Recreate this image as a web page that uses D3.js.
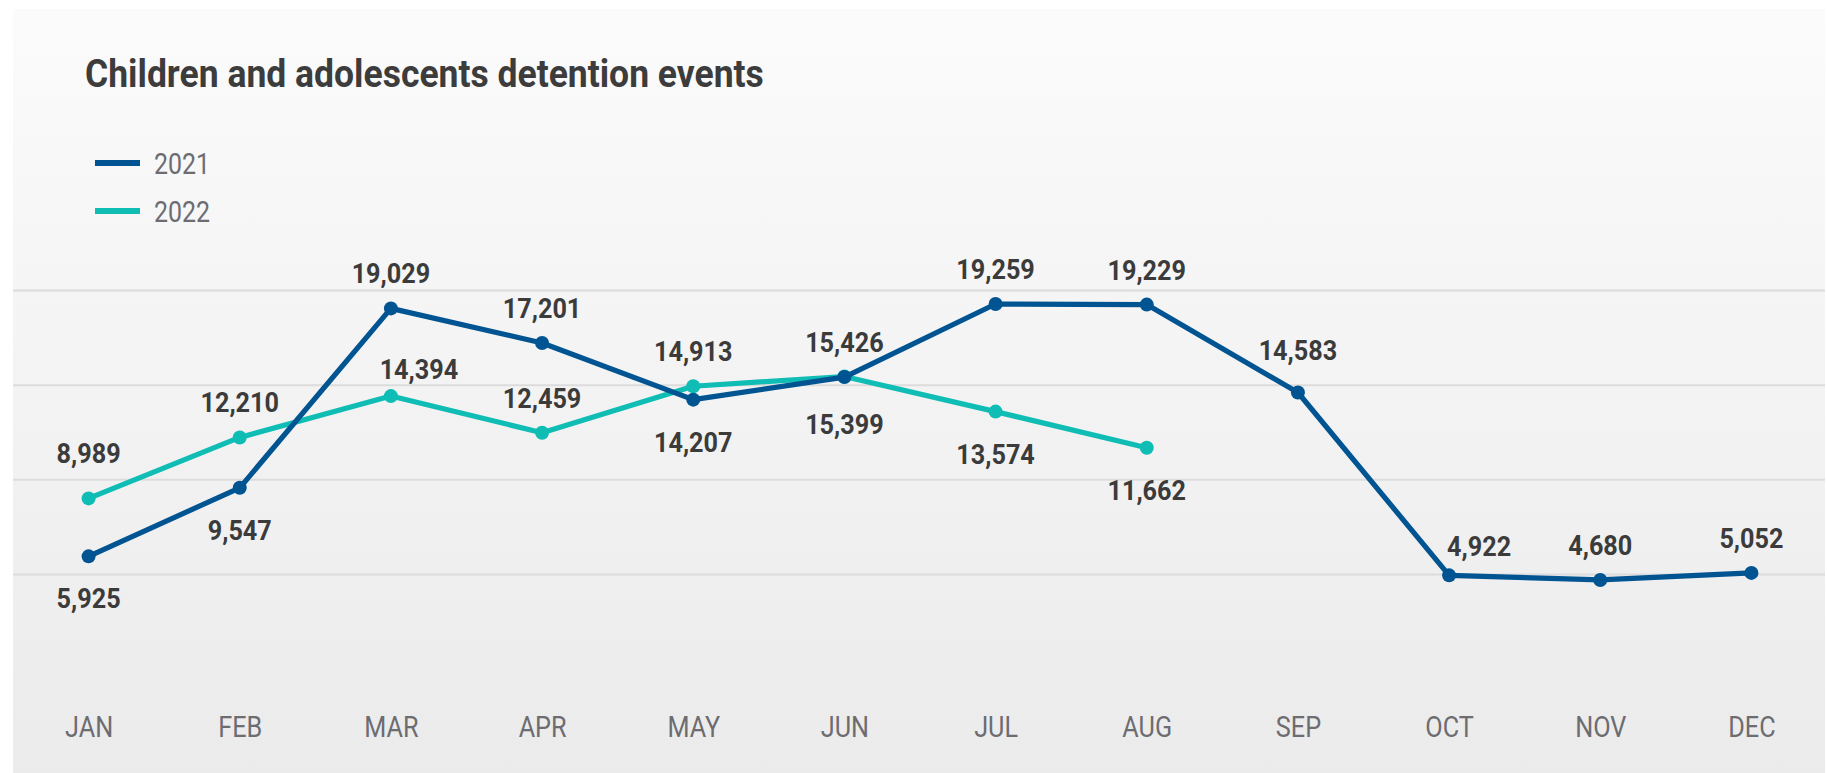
<!DOCTYPE html>
<html>
<head>
<meta charset="utf-8">
<script src="https://cdn.jsdelivr.net/npm/d3@7"></script>
<style>
  html, body { margin: 0; padding: 0; background: #fff; }
  svg { display: block; font-family: Roboto, "Noto Sans", sans-serif; }
</style>
</head>
<body>
<svg id="chart" width="1827" height="773"></svg>
<script>
const months = ["JAN", "FEB", "MAR", "APR", "MAY", "JUN", "JUL", "AUG", "SEP", "OCT", "NOV", "DEC"];
const seriesNames = ["2021", "2022"];
const values2021 = [5925, 9547, 19029, 17201, 14207, 15399, 19259, 19229, 14583, 4922, 4680, 5052];
const values2022 = [8989, 12210, 14394, 12459, 14913, 15426, 13574, 11662];
const gridValues = [5000, 10000, 15000, 20000];

// which side of the point each value label sits on
const side2021 = ["below", "below", "above", "above", "below", "below", "above", "above", "above", "above", "above", "above"];
const side2022 = ["above", "above", "above", "above", "above", "above", "below", "below"];

// small hand nudges where the original moved a label off its point
const labelNudge = {
    "2022-JAN": {dx: 0, dy: -10},
    "2022-MAR": {dx: 28, dy: 8},
    "2021-OCT": {dx: 30, dy: 6},
    "2021-SEP": {dx: 0, dy: -8},
    "2021-JUN": {dx: 0, dy: 5}
};

const colors = {"2021": "#005491", "2022": "#0fbdb5"};
const W = 1827, H = 773;
const panel = {x: 13, y: 9, right: 1825};

const svg = d3.select("#chart");

const defs = svg.append("defs");
const grad = defs.append("linearGradient")
    .attr("id", "bg")
    .attr("x1", 0).attr("y1", 0).attr("x2", 0).attr("y2", 1);
grad.append("stop").attr("offset", "0%").attr("stop-color", "#fbfbfb");
grad.append("stop").attr("offset", "100%").attr("stop-color", "#ebebec");

svg.append("rect")
    .attr("x", panel.x)
    .attr("y", panel.y)
    .attr("width", panel.right - panel.x)
    .attr("height", H - panel.y)
    .attr("fill", "url(#bg)");

const xScale = d3.scalePoint()
    .domain(months)
    .range([panel.x, W])
    .padding(0.5);

const yScale = d3.scaleLinear()
    .domain([0, 20000])
    .range([668.5, 290]);

function condense(sel, k) {
    sel.each(function() {
        const len = this.getComputedTextLength();
        d3.select(this)
            .attr("textLength", len * k)
            .attr("lengthAdjust", "spacingAndGlyphs");
    });
}

// gridlines
const grid = svg.append("g")
    .attr("class", "grid")
    .attr("transform", `translate(${panel.right}, 0)`)
    .call(d3.axisLeft(yScale)
        .tickValues(gridValues)
        .tickSize(panel.right - panel.x)
        .tickFormat(""));
grid.select(".domain").remove();
grid.selectAll("line")
    .attr("stroke", "#dcdcdd")
    .attr("stroke-width", 2);

// month axis
const xAxis = svg.append("g")
    .attr("class", "x-axis")
    .attr("transform", `translate(0, ${yScale(0)})`)
    .call(d3.axisBottom(xScale).tickSize(0).tickPadding(47.5));
xAxis.select(".domain").remove();
xAxis.selectAll("text")
    .attr("font-size", 29)
    .attr("font-family", "Roboto")
    .attr("fill", "#6c6c71")
    .call(condense, 0.87);

const series = [
    {name: "2022", values: values2022, sides: side2022},
    {name: "2021", values: values2021, sides: side2021}
];

const line = d3.line()
    .x(d => xScale(d.month))
    .y(d => yScale(d.value));

function rows(s) {
    return s.values.map((v, i) => ({
        month: months[i],
        value: v,
        side: s.sides[i],
        key: s.name + "-" + months[i]
    }));
}

series.forEach(s => {
    const data = rows(s);
    const g = svg.append("g").attr("class", "series-" + s.name);

    g.append("path")
        .datum(data)
        .attr("d", line)
        .attr("fill", "none")
        .attr("stroke", colors[s.name])
        .attr("stroke-width", 5.2)
        .attr("stroke-linejoin", "round");

    g.selectAll("circle")
        .data(data)
        .enter().append("circle")
        .attr("cx", d => xScale(d.month))
        .attr("cy", d => yScale(d.value))
        .attr("r", 7)
        .attr("fill", colors[s.name]);
});

// value labels on top of everything
series.forEach(s => {
    svg.append("g").selectAll("text")
        .data(rows(s))
        .enter().append("text")
        .attr("x", d => xScale(d.month) + (labelNudge[d.key] ? labelNudge[d.key].dx : 0))
        .attr("y", d => yScale(d.value) + (d.side === "above" ? -25 : 52)
            + (labelNudge[d.key] ? labelNudge[d.key].dy : 0))
        .attr("text-anchor", "middle")
        .attr("font-size", 28)
        .attr("font-weight", 700)
        .attr("fill", "#3b3b3b")
        .text(d => d3.format(",")(d.value))
        .call(condense, 0.9);
});

// title
svg.append("text")
    .attr("x", 85)
    .attr("y", 87)
    .attr("font-size", 39)
    .attr("font-weight", 700)
    .attr("fill", "#3c3c3c")
    .text("Children and adolescents detention events")
    .call(condense, 0.91);

// legend
const legend = svg.append("g").attr("class", "legend");
seriesNames.forEach((name, i) => {
    const ly = 163 + i * 48;
    legend.append("line")
        .attr("x1", 95).attr("x2", 140)
        .attr("y1", ly).attr("y2", ly)
        .attr("stroke", colors[name])
        .attr("stroke-width", 6);
    legend.append("text")
        .attr("x", 154)
        .attr("y", ly + 10.5)
        .attr("font-size", 29)
        .attr("fill", "#6c6c71")
        .text(name)
        .call(condense, 0.86);
});
</script>
</body>
</html>
